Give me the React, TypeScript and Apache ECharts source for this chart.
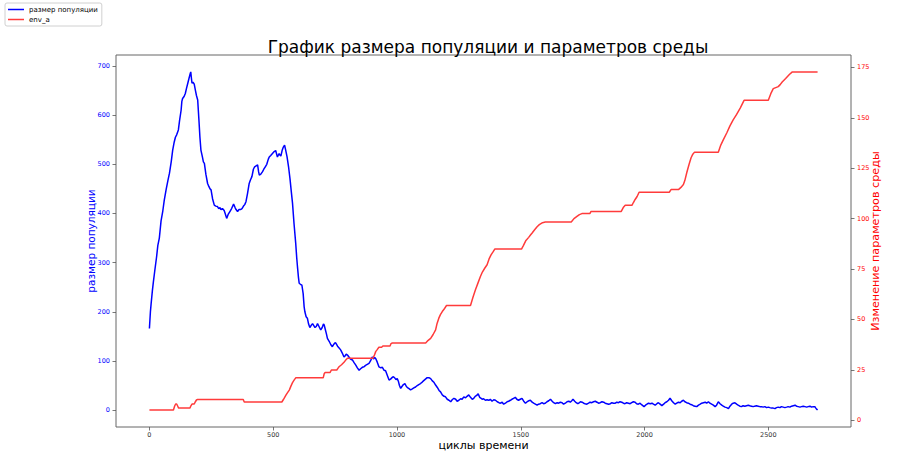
import React, { useEffect, useRef } from "react";
import * as echarts from "echarts";

const titleText = "График размера популяции и параметров среды";
const xName = "циклы времени";
const leftName = "размер популяции";
const rightName = "Изменение параметров среды";
const popName = "размер популяции";
const envName = "env_a";

const xTicks = [0, 500, 1000, 1500, 2000, 2500];
const leftTicks = [0, 100, 200, 300, 400, 500, 600, 700];
const rightTicks = [0, 25, 50, 75, 100, 125, 150, 175];

// population size: [cycle, value]
const popData: [number, number][] = [
  [0,166],[4,200],[7,217],[12,243],[16,261],[22,285],[29,312],[34,335],[40,350],[47,385],[54,405],[60,427],[68,450],[75,468],[81,482],[88,505],[94,529],[100,545],[105,555],[110,560],[117,570],[122,590],[128,610],[131,628],[134,634],[140,638],[145,644],[150,655],[155,665],[160,675],[165,685],[167,688],[169,678],[172,665],[176,667],[181,663],[186,650],[190,640],[195,631],[200,590],[204,555],[208,529],[214,515],[218,505],[222,502],[228,480],[235,461],[240,455],[245,450],[249,448],[255,430],[262,417],[268,415],[275,414],[280,410],[285,412],[289,408],[295,410],[302,406],[306,400],[312,390],[318,398],[325,404],[332,410],[340,419],[346,412],[350,408],[356,404],[362,408],[368,408],[374,410],[380,415],[385,418],[390,424],[396,440],[403,461],[408,468],[414,475],[420,490],[425,495],[431,497],[437,499],[441,485],[444,478],[450,480],[457,485],[462,490],[468,495],[474,500],[480,510],[484,515],[490,518],[497,522],[504,526],[510,528],[517,515],[520,518],[524,522],[528,518],[531,517],[536,528],[541,535],[546,539],[550,530],[556,515],[562,495],[568,470],[573,445],[578,421],[584,380],[591,339],[595,310],[598,292],[602,270],[605,258],[610,256],[616,254],[621,237],[625,210],[628,200],[633,190],[638,187],[643,175],[648,168],[653,172],[659,176],[664,172],[669,168],[674,170],[679,176],[685,170],[692,163],[698,168],[703,175],[706,173],[710,165],[715,155],[719,146],[726,140],[733,133],[739,129],[745,134],[750,137],[753,136],[760,130],[767,126],[773,122],[779,116],[786,108],[790,110],[795,114],[800,112],[806,108],[812,104],[820,102],[826,97],[833,92],[840,86],[847,81],[853,84],[860,87],[867,88],[873,91],[880,93],[887,95],[893,100],[900,108],[905,104],[910,107],[914,105],[920,98],[927,88],[935,86],[941,87],[948,81],[954,80],[960,72],[968,61],[974,63],[980,66],[984,68],[990,66],[996,62],[1001,64],[1006,58],[1010,50],[1015,44],[1020,48],[1026,52],[1032,54],[1038,48],[1044,45],[1050,43],[1055,41],[1062,43],[1068,45],[1075,47],[1082,50],[1088,52],[1095,54],[1102,57],[1108,60],[1115,63],[1122,66],[1129,66],[1136,64],[1142,60],[1150,56],[1156,51],[1163,46],[1170,40],[1176,37],[1183,31],[1190,28],[1196,27],[1203,22],[1210,20],[1217,17],[1223,21],[1230,24],[1237,22],[1243,18],[1250,20],[1257,23],[1263,22],[1270,27],[1277,25],[1283,28],[1290,31],[1297,26],[1304,22],[1310,24],[1316,28],[1322,30],[1328,33],[1334,26],[1340,24],[1344,22],[1350,23],[1357,20],[1364,21],[1371,20],[1377,22],[1384,18],[1391,21],[1398,20],[1405,17],[1412,15],[1418,14],[1425,16],[1431,12],[1438,14],[1445,17],[1451,18],[1458,20],[1464,22],[1471,24],[1478,26],[1484,22],[1491,20],[1498,22],[1505,24],[1512,18],[1519,14],[1526,17],[1532,19],[1539,20],[1546,16],[1552,14],[1559,12],[1566,10],[1572,12],[1579,13],[1586,15],[1592,13],[1599,14],[1606,17],[1613,19],[1620,22],[1627,18],[1633,15],[1640,13],[1647,15],[1653,14],[1660,16],[1667,15],[1673,12],[1680,14],[1687,17],[1694,18],[1700,16],[1706,19],[1711,22],[1718,18],[1724,15],[1730,13],[1734,14],[1741,17],[1748,16],[1754,14],[1760,13],[1767,12],[1774,14],[1780,16],[1787,15],[1794,17],[1801,18],[1808,16],[1814,14],[1821,15],[1828,17],[1835,16],[1841,14],[1848,13],[1855,12],[1862,13],[1868,15],[1875,14],[1882,14],[1888,16],[1895,15],[1901,17],[1908,16],[1915,14],[1921,13],[1928,15],[1935,14],[1942,13],[1948,15],[1955,17],[1962,16],[1968,13],[1975,12],[1982,14],[1988,11],[1993,9],[1998,7],[2004,10],[2010,12],[2016,14],[2023,13],[2030,14],[2036,12],[2043,10],[2050,13],[2056,15],[2063,12],[2070,9],[2077,12],[2083,15],[2090,17],[2097,20],[2103,24],[2110,19],[2117,15],[2124,12],[2130,14],[2137,16],[2144,15],[2150,18],[2157,20],[2163,17],[2170,15],[2177,14],[2184,12],[2190,11],[2197,9],[2204,8],[2211,7],[2218,10],[2225,12],[2231,14],[2238,15],[2245,16],[2251,14],[2258,17],[2264,14],[2271,12],[2278,10],[2285,7],[2291,10],[2298,17],[2305,13],[2312,10],[2318,8],[2325,6],[2332,5],[2339,3],[2345,8],[2352,12],[2358,14],[2365,15],[2372,12],[2378,10],[2385,8],[2392,7],[2398,9],[2405,8],[2412,9],[2419,10],[2425,9],[2432,8],[2439,7],[2445,8],[2452,9],[2459,8],[2466,7],[2473,7],[2479,6],[2486,7],[2493,5],[2500,6],[2506,5],[2513,4],[2520,4],[2527,3],[2533,5],[2540,6],[2547,5],[2553,7],[2560,6],[2567,5],[2574,6],[2580,7],[2587,6],[2594,8],[2601,9],[2608,10],[2614,8],[2621,7],[2628,6],[2634,7],[2641,8],[2648,7],[2655,6],[2661,7],[2668,8],[2675,6],[2681,7],[2688,7],[2692,4],[2695,2],[2699,0]
];

// environment parameter env_a: [cycle, value]
const envData: [number, number][] = [
  [0,5],[97,5],[102,7],[106,8],[110,8],[114,7],[118,6],[164,6],[167,7],[172,8],[181,8],[185,9],[190,10],[195,10.3],[379,10.3],[383,9],[535,9],[540,10],[544,10.8],[552,12.5],[560,14],[565,14.9],[572,17],[578,18.6],[585,20],[591,21],[702,21],[706,23],[710,23.7],[730,23.7],[735,24.9],[757,24.9],[762,25.8],[766,26.5],[776,27.5],[786,28.7],[793,29.8],[800,30.7],[903,30.7],[908,32],[914,34],[920,35],[927,36.2],[938,36.2],[943,36.8],[972,36.8],[976,38],[981,38.3],[1116,38.3],[1125,39.5],[1136,40.6],[1146,42.5],[1156,44.8],[1162,48],[1169,50.6],[1176,52.5],[1183,53.9],[1190,55],[1200,56.9],[1297,56.9],[1307,61],[1317,64.7],[1327,68],[1337,71.3],[1345,73.5],[1355,75.5],[1364,77.1],[1372,80],[1380,82],[1388,83.5],[1395,84.9],[1503,84.9],[1510,86.5],[1520,89],[1532,90.7],[1540,92],[1546,92.9],[1556,94.5],[1566,96],[1575,97],[1588,98],[1599,98.3],[1704,98.3],[1715,100],[1727,101.1],[1737,102],[1747,102.5],[1779,102.5],[1784,103.6],[1906,103.6],[1914,105.5],[1922,106.6],[1949,106.6],[1955,108],[1962,109.5],[1970,111],[1978,113.1],[2100,113.1],[2107,114.4],[2137,114.4],[2147,115.5],[2157,116.9],[2163,119],[2171,123],[2180,127],[2188,130.2],[2195,132],[2202,133],[2298,133],[2308,136.5],[2319,139.3],[2332,142.5],[2345,146],[2358,149],[2372,151.7],[2387,155],[2402,158.7],[2500,158.7],[2510,162],[2520,164.5],[2530,165],[2540,165.5],[2548,166.5],[2556,167.8],[2570,169.5],[2585,171.5],[2597,172.8],[2699,172.8]
];

const FONT = "DejaVu Sans";

export default function App() {
  const ref = useRef<HTMLDivElement>(null);
  useEffect(() => {
    if (!ref.current) return;
    const chart = echarts.init(ref.current, null, { renderer: "svg" });
    const tickCommon = { show: true, length: 3.5, inside: false, lineStyle: { color: "#555", width: 0.8 } };
    const fmt = (v: number) => String(v);
    chart.setOption({
      animation: false,
      backgroundColor: "#fff",
      textStyle: { fontFamily: FONT },
      title: {
        text: titleText,
        left: 483,
        top: 33,
        textAlign: "center",
        textStyle: { fontFamily: FONT, fontSize: 17, fontWeight: "normal", color: "#000" },
      },
      legend: {
        orient: "vertical",
        left: 5,
        top: 3,
        padding: [3, 4, 3, 3],
        itemGap: 3,
        itemWidth: 16,
        itemHeight: 1.5,
        icon: "rect",
        borderColor: "#d0d0d0",
        borderWidth: 1,
        borderRadius: 2,
        textStyle: { fontFamily: FONT, fontSize: 7, color: "#000" },
        data: [popName, envName],
      },
      grid: {
        left: 116,
        right: 69,
        top: 55,
        bottom: 45,
        show: true,
        borderColor: "#666",
        borderWidth: 1,
        backgroundColor: "transparent",
      },
      xAxis: {
        type: "value",
        min: -135,
        max: 2834,
        name: xName,
        nameLocation: "middle",
        nameMoveOverlap: false,
        nameGap: 13,
        nameTextStyle: { fontFamily: FONT, fontSize: 11, color: "#000" },
        axisLine: { show: false, onZero: false },
        axisTick: { ...tickCommon, customValues: xTicks },
        axisLabel: { customValues: xTicks, formatter: fmt, fontFamily: FONT, fontSize: 6.5, color: "#333", margin: 4 },
        splitLine: { show: false },
      },
      yAxis: [
        {
          type: "value",
          position: "left",
          min: -34.4,
          max: 722.4,
          name: leftName,
          nameLocation: "middle",
          nameMoveOverlap: false,
          nameRotate: 90,
          nameGap: 20,
          nameTextStyle: { fontFamily: FONT, fontSize: 10.5, color: "blue" },
          axisLine: { show: false, onZero: false },
          axisTick: { ...tickCommon, customValues: leftTicks },
          axisLabel: { customValues: leftTicks, formatter: fmt, fontFamily: FONT, fontSize: 6.5, color: "blue", margin: 6 },
          splitLine: { show: false },
        },
        {
          type: "value",
          position: "right",
          min: -3.4,
          max: 181.2,
          name: rightName,
          nameLocation: "middle",
          nameMoveOverlap: false,
          nameRotate: 90,
          nameGap: 19,
          nameTextStyle: { fontFamily: FONT, fontSize: 11.2, color: "red" },
          axisLine: { show: false, onZero: false },
          axisTick: { ...tickCommon, customValues: rightTicks },
          axisLabel: { customValues: rightTicks, formatter: fmt, fontFamily: FONT, fontSize: 6.5, color: "red", margin: 6 },
          splitLine: { show: false },
        },
      ],
      series: [
        {
          name: popName,
          type: "line",
          yAxisIndex: 0,
          data: popData,
          showSymbol: false,
          symbol: "none",
          lineStyle: { color: "blue", width: 1.5 },
          itemStyle: { color: "blue" },
        },
        {
          name: envName,
          type: "line",
          yAxisIndex: 1,
          data: envData,
          showSymbol: false,
          symbol: "none",
          lineStyle: { color: "#ff3b3b", width: 1.5 },
          itemStyle: { color: "#ff3b3b" },
        },
      ],
    });
    return () => chart.dispose();
  }, []);
  return <div ref={ref} style={{ position: "fixed", left: 0, top: 0, width: 920, height: 472 }} />;
}
